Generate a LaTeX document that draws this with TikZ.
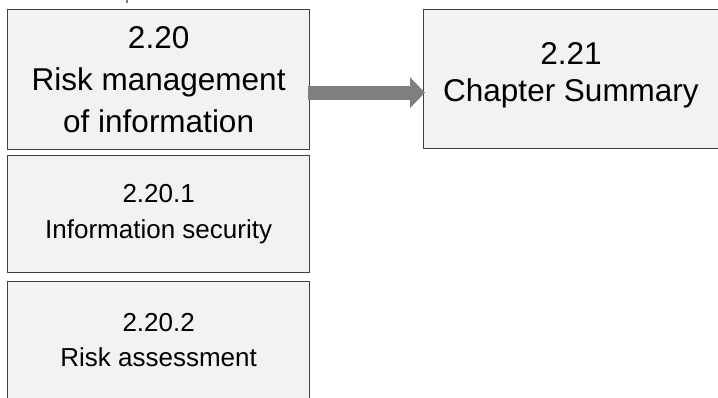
\documentclass[tikz,border=0pt]{standalone}
\usepackage{fontspec}
\setmainfont{Liberation Sans}
\usetikzlibrary{arrows.meta}
\definecolor{boxfill}{HTML}{F2F2F2}
\definecolor{boxline}{HTML}{3F3F3F}
\definecolor{arrowgray}{HTML}{7F7F7F}
\begin{document}
\begin{tikzpicture}[x=1pt,y=-1pt,
  box/.style={draw=boxline, line width=1.3pt, fill=boxfill, align=center,
    inner sep=0pt, anchor=north west, text=black},
  bigtext/.style={font=\fontsize{31.5}{42}\selectfont},
  smalltext/.style={font=\fontsize{26}{35.5}\selectfont},
  blockarrow/.style={draw=arrowgray, line width=14pt, line cap=butt,
    -{Triangle[length=15pt,width=30pt]}}]
\useasboundingbox (0,0) rectangle (718,397);
\clip (0,0) rectangle (718,397);

% section boxes
\node[box, bigtext, minimum width=302pt, minimum height=140pt] (b1) at (7,9)
  {2.20\\Risk management\\of information};
\node[box, smalltext, minimum width=302pt, minimum height=117pt] (b2) at (7,155)
  {2.20.1\\Information security};
\node[box, smalltext, minimum width=302pt, minimum height=117pt] (b3) at (7,281)
  {2.20.2\\Risk assessment};
% the summary box runs past the right edge; its text is centred on the visible part
\node[box, minimum width=310pt, minimum height=139pt] (b4) at (423,9) {};
\coordinate (b4mid) at (571,75);
\node[font=\fontsize{31.5}{37}\selectfont, align=center, inner sep=0pt]
  (b4t) at (b4mid) {2.21\\Chapter Summary};

% block arrow to the next chapter section
\coordinate (as) at ([yshift=-13pt,xshift=-2pt]b1.east);
\draw[blockarrow, shorten >=-2pt] (as) -- (as -| b4.west);

% stub of a connector from above
\coordinate (stubtop) at (127,0);
\draw[arrowgray, line width=1.5pt] (stubtop) -- ++(0,3);
\end{tikzpicture}
\end{document}
